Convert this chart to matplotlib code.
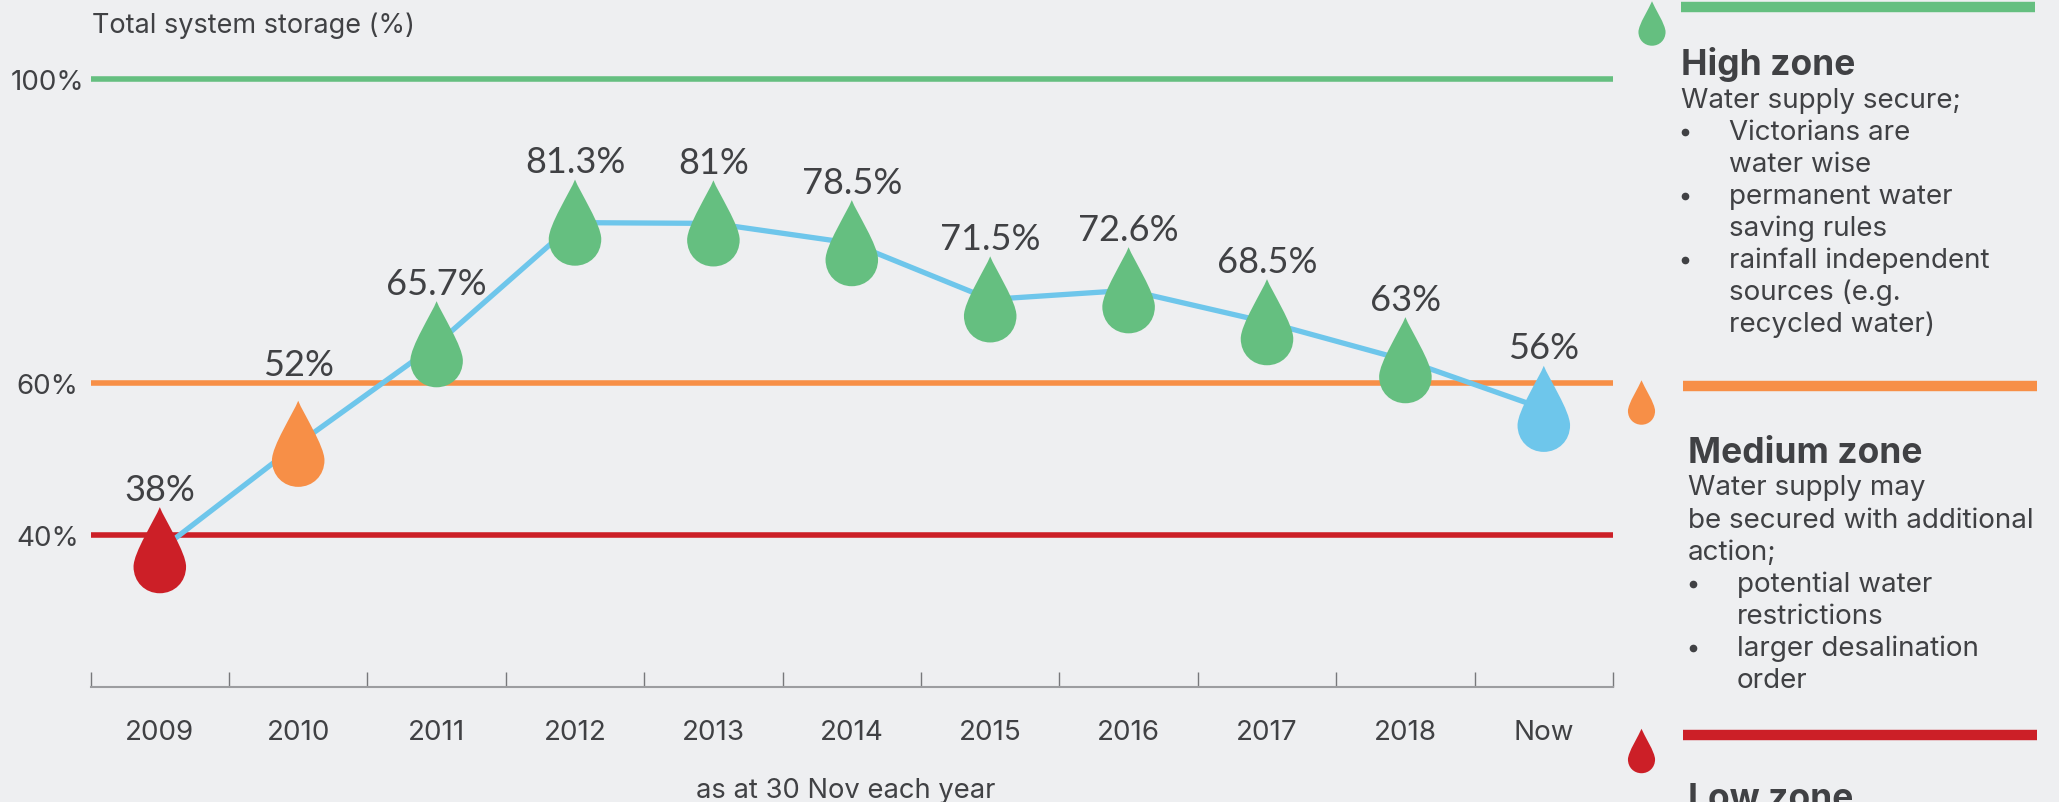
import matplotlib
matplotlib.use('Agg')
import matplotlib.pyplot as plt
from matplotlib.path import Path

BG = '#EEEFF1'
TEXT = '#404144'
GREEN = '#65BF80'
ORANGE = '#F78F47'
RED = '#CC1F27'
BLUE = '#6EC6EB'

years = ['2009', '2010', '2011', '2012', '2013', '2014', '2015', '2016', '2017', '2018', 'Now']
storage = [38, 52, 65.1, 81.1, 81, 78.4, 71, 72.2, 68, 63, 56.6]
labels = ['38%', '52%', '65.7%', '81.3%', '81%', '78.5%', '71.5%', '72.6%', '68.5%', '63%', '56%']
drop_colors = [RED, ORANGE, GREEN, GREEN, GREEN, GREEN, GREEN, GREEN, GREEN, GREEN, BLUE]
zone_levels = [100, 60, 40]
zone_colors = [GREEN, ORANGE, RED]

high_zone = ['Water supply secure;', '*Victorians are', '-water wise', '*permanent water',
             '-saving rules', '*rainfall independent', '-sources (e.g.', '-recycled water)']
medium_zone = ['Water supply may', 'be secured with additional', 'action;', '*potential water',
               '-restrictions', '*larger desalination', '-order']

plt.rcParams['font.family'] = ['Inter', 'DejaVu Sans']

# teardrop marker, tip up
drop = Path(
    [(0, 1), (0.12, 0.7), (0.61, -0.05), (0.61, -0.38), (0.61, -0.74), (0.34, -1), (0, -1),
     (-0.34, -1), (-0.61, -0.74), (-0.61, -0.38), (-0.61, -0.05), (-0.12, 0.7), (0, 1), (0, 1)],
    [Path.MOVETO] + [Path.CURVE4] * 12 + [Path.CLOSEPOLY],
)

W, H = 2059, 803
fig = plt.figure(figsize=(W / 100, H / 100), dpi=100, facecolor=BG)
ax = fig.add_axes([90.6 / W, (H - 688) / H, (1613 - 90.6) / W, 688 / H])
ax.set_facecolor('none')
ax.set_xlim(-0.5, 10.5)
ax.set_ylim(20, 20 + 688 / 7.6)

for level, color in zip(zone_levels, zone_colors):
    ax.axhline(level, color=color, lw=4, solid_capstyle='butt', zorder=1)

xs = list(range(len(years)))
ax.plot(xs, storage, color=BLUE, lw=3.8, zorder=2, clip_on=False)
ax.scatter(xs, storage, marker=drop, s=62 ** 2, c=drop_colors, linewidths=0, zorder=3, clip_on=False)

for i, (v, lab) in enumerate(zip(storage, labels)):
    # the 2010 label sits higher than the rest in the original
    dy = 57 if i == 1 else 44
    ax.annotate(lab, (i, v), xytext=(0, dy), textcoords='offset points', ha='center', va='center',
                fontsize=26, color=TEXT, zorder=4, family=['Lato', 'DejaVu Sans'])

for s in ['top', 'left', 'right']:
    ax.spines[s].set_visible(False)
ax.spines['bottom'].set_color('#9C9DA0')
ax.spines['bottom'].set_linewidth(1.5)

ax.set_xticks(xs, years)
ax.set_xticks([x - 0.5 for x in xs] + [10.5], minor=True)
ax.tick_params(axis='x', which='major', length=0, pad=23, labelsize=20, labelcolor=TEXT)
ax.tick_params(axis='x', which='minor', direction='in', length=11, width=1, color='#77787B')

ax.set_yticks(zone_levels, [f'{v}%' for v in zone_levels])
ax.tick_params(axis='y', length=0, pad=31, labelsize=20, labelcolor=TEXT)
for t in ax.get_yticklabels():
    t.set_ha('center')

# everything outside the plot goes on a pixel-sized overlay
over = fig.add_axes([0, 0, 1, 1])
over.set_xlim(0, W)
over.set_ylim(H, 0)
over.axis('off')
over.patch.set_alpha(0)

over.text(92, 26, 'Total system storage (%)', fontsize=19.5, color=TEXT, va='center')
over.text(846, 791, 'as at 30 Nov each year', fontsize=19.7, color=TEXT, ha='center', va='center')


def zone_block(lines, x, y0, x_bullet, x_indent, step=32.1):
    y = y0
    for line in lines:
        if line[0] == '*':
            over.plot([x_bullet], [y], 'o', ms=4.5, color=TEXT)
            over.text(x_indent, y, line[1:], fontsize=20, color=TEXT, va='center')
        elif line[0] == '-':
            over.text(x_indent, y, line[1:], fontsize=20, color=TEXT, va='center')
        else:
            over.text(x, y, line, fontsize=20, color=TEXT, va='center')
        y += step


# legend bars and small drops
over.plot([1681, 2035], [8, 8], color=GREEN, lw=7.5, solid_capstyle='butt')
over.plot([1683, 2037], [387, 387], color=ORANGE, lw=7.5, solid_capstyle='butt')
over.plot([1683, 2037], [735.5, 735.5], color=RED, lw=7.5, solid_capstyle='butt')
over.scatter([1652, 1641.5, 1641.5], [24.5, 403.5, 752], marker=drop, s=32 ** 2,
             c=[GREEN, ORANGE, RED], linewidths=0)

over.text(1681, 64, 'High zone', fontsize=25.5, fontweight='bold', color=TEXT, va='center')
zone_block(high_zone, 1681, 100.5, 1685, 1729)
over.text(1688, 454, 'Medium zone', fontsize=25.5, fontweight='bold', color=TEXT, va='center')
zone_block(medium_zone, 1688, 488.5, 1693, 1737)
over.text(1688, 800, 'Low zone', fontsize=25.5, fontweight='bold', color=TEXT, va='center')

fig.savefig('out.png', dpi=100, facecolor=BG)
